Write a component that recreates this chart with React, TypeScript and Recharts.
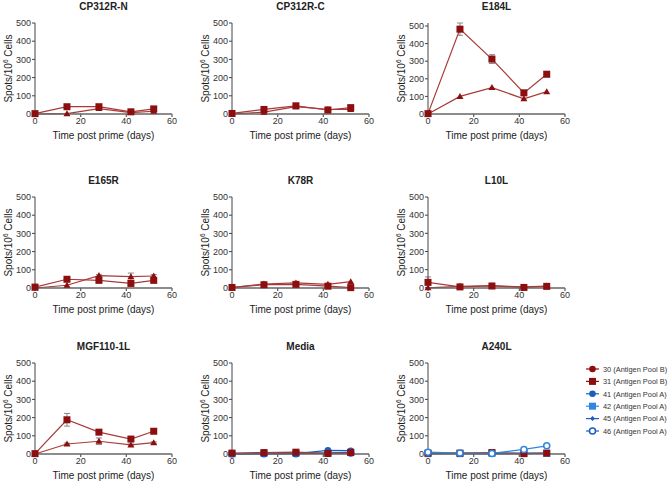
import React from "react";
import { LineChart, Line, XAxis, YAxis, ErrorBar } from "recharts";

const DAYS = [0, 14, 28, 42, 52];
const X_TICKS = [0, 20, 40, 60];
const Y_TICKS = [0, 100, 200, 300, 400, 500];

// red series: squares (31) and triangles (30)
const CP312RN_SQ = [2, 40, 40, 12, 28];
const CP312RN_TRI = [0, 2, 30, 8, 15];
const CP312RC_SQ = [3, 25, 45, 22, 35];
const CP312RC_TRI = [0, 10, 40, 25, 25];
const CP312RC_SQ_ERR = [0, 5, 8, 15, 10];
const E184L_SQ = [2, 482, 312, 120, 226];
const E184L_TRI = [0, 100, 150, 86, 127];
const E184L_SQ_ERR = [0, 35, 25, 15, 15];
const E165R_SQ = [5, 48, 42, 25, 42];
const E165R_TRI = [0, 15, 68, 62, 66];
const E165R_TRI_ERR = [0, 0, 5, 20, 8];
const K78R_SQ = [3, 18, 20, 10, 2];
const K78R_TRI = [2, 22, 28, 20, 35];
const L10L_SQ = [30, 5, 10, 2, 8];
const L10L_TRI = [0, 8, 12, 5, 10];
const L10L_SQ_ERR = [30, 3, 5, 3, 5];
const MGF_SQ = [2, 188, 120, 82, 125];
const MGF_TRI = [0, 55, 70, 50, 62];
const MGF_SQ_ERR = [0, 35, 8, 8, 8];
const MGF_TRI_ERR = [0, 5, 18, 5, 5];

// Media
const MEDIA_31 = [5, 8, 10, 3, 8];
const MEDIA_41 = [2, 2, 2, 20, 18];
const MEDIA_42 = [1, 3, 3, 5, 10];
const MEDIA_45 = [2, 2, 3, 4, 6];
const MEDIA_46 = [1, 2, 2, 4, 5];
// A240L
const A240_31 = [5, 5, 8, 2, 5];
const A240_41 = [3, 3, 2, 3, 3];
const A240_42 = [2, 2, 3, 3, 3];
const A240_45 = [2, 3, 2, 4, 4];
const A240_46 = [10, 5, 3, 25, 45];
const A240_46_ERR = [0, 0, 0, 5, 8];

const LEGEND_LABELS = [
  "30 (Antigen Pool B)",
  "31 (Antigen Pool B)",
  "41 (Antigen Pool A)",
  "42 (Antigen Pool A)",
  "45 (Antigen Pool A)",
  "46 (Antigen Pool A)",
];

const RED = "#8c0e0e";
const RED_LINE = "#a83a3a";
const BLUE = "#1a5fbf";
const BLUE2 = "#2f86e0";
const FONT = "'Liberation Sans', Arial, sans-serif";

type Shape = "square" | "triangle" | "circle" | "diamond" | "open";

type Series = {
  values: number[];
  err?: number[];
  shape: Shape;
  color: string;
  line: string;
};

const sq = (v: number[], err?: number[]): Series => ({ values: v, err, shape: "square", color: RED, line: RED_LINE });
const tri = (v: number[], err?: number[]): Series => ({ values: v, err, shape: "triangle", color: RED, line: RED_LINE });

const PANELS: { title: string; series: Series[] }[] = [
  { title: "CP312R-N", series: [tri(CP312RN_TRI), sq(CP312RN_SQ)] },
  { title: "CP312R-C", series: [tri(CP312RC_TRI), sq(CP312RC_SQ, CP312RC_SQ_ERR)] },
  { title: "E184L", series: [tri(E184L_TRI), sq(E184L_SQ, E184L_SQ_ERR)] },
  { title: "E165R", series: [tri(E165R_TRI, E165R_TRI_ERR), sq(E165R_SQ)] },
  { title: "K78R", series: [tri(K78R_TRI), sq(K78R_SQ)] },
  { title: "L10L", series: [tri(L10L_TRI), sq(L10L_SQ, L10L_SQ_ERR)] },
  { title: "MGF110-1L", series: [tri(MGF_TRI, MGF_TRI_ERR), sq(MGF_SQ, MGF_SQ_ERR)] },
  {
    title: "Media",
    series: [
      { values: MEDIA_42, shape: "square", color: BLUE2, line: BLUE2 },
      { values: MEDIA_45, shape: "diamond", color: BLUE, line: BLUE },
      { values: MEDIA_46, shape: "open", color: BLUE, line: BLUE },
      { values: MEDIA_41, shape: "circle", color: BLUE, line: BLUE },
      sq(MEDIA_31),
    ],
  },
  {
    title: "A240L",
    series: [
      { values: A240_41, shape: "circle", color: BLUE, line: BLUE },
      { values: A240_42, shape: "square", color: BLUE2, line: BLUE2 },
      { values: A240_45, shape: "diamond", color: BLUE, line: BLUE },
      sq(A240_31),
      { values: A240_46, err: A240_46_ERR, shape: "open", color: BLUE2, line: BLUE2 },
    ],
  },
];

const COL_X = [35, 232, 428];
const ROW_Y = [23, 197, 363];
const PLOT_W = 137;
const PLOT_H = 91;

function Marker({ shape, x, y, color }: { shape: Shape; x: number; y: number; color: string }) {
  if (shape === "square") return <rect x={x - 3.5} y={y - 3.5} width={7} height={7} fill={color} />;
  if (shape === "triangle")
    return <path d={`M${x},${y - 3.5}L${x + 3.5},${y + 2.5}L${x - 3.5},${y + 2.5}Z`} fill={color} />;
  if (shape === "circle") return <circle cx={x} cy={y} r={3.3} fill={color} />;
  if (shape === "diamond") return <path d={`M${x},${y - 2.5}L${x + 2.5},${y}L${x},${y + 2.5}L${x - 2.5},${y}Z`} fill={color} />;
  return <circle cx={x} cy={y} r={3} fill="#fff" stroke={color} strokeWidth={1.5} />;
}

const dotFor = (s: Series) => (p: any) => (
  <Marker key={`d-${p.index}`} shape={s.shape} x={p.cx} y={p.cy} color={s.color} />
);

function Panel({ title, series, col, row }: { title: string; series: Series[]; col: number; row: number }) {
  const data = DAYS.map((d, i) => {
    const r: Record<string, number> = { day: d };
    series.forEach((s, k) => {
      r[`v${k}`] = s.values[i];
      if (s.err) r[`e${k}`] = s.err[i];
    });
    return r;
  });
  const left = COL_X[col] - 35;
  const top = ROW_Y[row] - 23;
  return (
    <div style={{ position: "absolute", left, top, width: 192, height: 144 }}>
      <div
        style={{
          position: "absolute",
          left: 35,
          width: PLOT_W,
          top: 1,
          textAlign: "center",
          fontFamily: FONT,
          fontWeight: 700,
          fontSize: 10,
          color: "#222",
        }}
      >
        {title}
      </div>
      <LineChart width={192} height={144} data={data} margin={{ top: 23, right: 20, bottom: 0, left: 0 }}>
        <XAxis
          dataKey="day"
          type="number"
          domain={[0, 60]}
          ticks={X_TICKS}
          height={30}
          tickSize={3}
          tickMargin={1}
          stroke="#666"
          strokeWidth={1.3}
          tick={{ fontSize: 9, fill: "#333", fontFamily: FONT }}
          label={{
            content: () => (
              <text x={35 + PLOT_W / 2} y={139} textAnchor="middle" fontSize={10} fill="#222" fontFamily={FONT}>
                Time post prime (days)
              </text>
            ),
          }}
        />
        <YAxis
          domain={[0, 500]}
          ticks={Y_TICKS}
          width={35}
          tickSize={3}
          tickMargin={1}
          stroke="#444"
          strokeWidth={1}
          tick={{ fontSize: 9, fill: "#333", fontFamily: FONT }}
          label={{
            content: () => (
              <text
                transform={`translate(12,${23 + PLOT_H / 2}) rotate(-90)`}
                textAnchor="middle"
                fontSize={10}
                fill="#222"
                fontFamily={FONT}
              >
                Spots/10
                <tspan dy={-4} fontSize={6.5}>6</tspan>
                <tspan dy={4}> Cells</tspan>
              </text>
            ),
          }}
        />
        {series.map((s, k) => (
          <Line
            key={k}
            dataKey={`v${k}`}
            type="linear"
            stroke={s.line}
            strokeWidth={1.2}
            dot={dotFor(s)}
            activeDot={false}
            isAnimationActive={false}
          >
            {s.err && <ErrorBar dataKey={`e${k}`} width={3} stroke="#888" strokeWidth={1} direction="y" />}
          </Line>
        ))}
      </LineChart>
    </div>
  );
}

const LEGEND_ITEMS: { shape: Shape; color: string }[] = [
  { shape: "circle", color: RED },
  { shape: "square", color: RED },
  { shape: "circle", color: BLUE },
  { shape: "square", color: BLUE2 },
  { shape: "diamond", color: BLUE },
  { shape: "open", color: BLUE },
];

export default function App() {
  return (
    <div style={{ position: "absolute", left: 0, top: 0, width: 669, height: 483, background: "#fff", overflow: "hidden" }}>
      {PANELS.map((p, i) => (
        <Panel key={p.title} title={p.title} series={p.series} col={i % 3} row={Math.floor(i / 3)} />
      ))}
      <svg style={{ position: "absolute", left: 580, top: 360 }} width={89} height={80}>
        {LEGEND_LABELS.map((lab, i) => {
          const y = 9 + i * 12.4;
          const it = LEGEND_ITEMS[i];
          return (
            <g key={lab}>
              <line x1={6} x2={19} y1={y} y2={y} stroke={it.color} strokeWidth={1.2} />
              <Marker shape={it.shape} x={12.5} y={y} color={it.color} />
              <text x={23} y={y + 2.7} fontSize={7.4} fill="#333" fontFamily={FONT}>
                {lab}
              </text>
            </g>
          );
        })}
      </svg>
    </div>
  );
}
